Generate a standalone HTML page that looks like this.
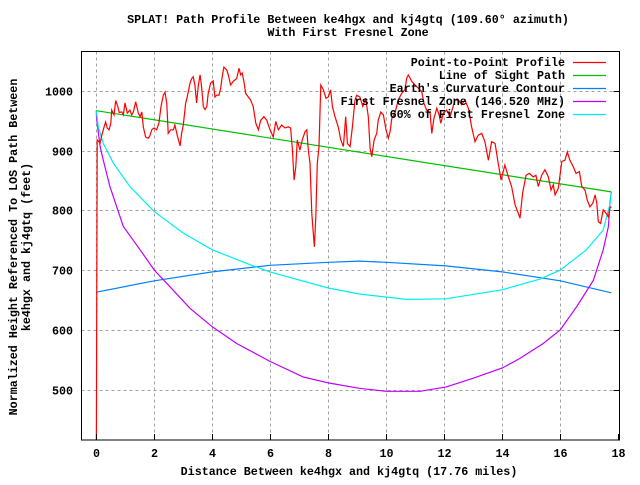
<!DOCTYPE html>
<html><head><meta charset="utf-8"><style>
html,body{margin:0;padding:0;background:#fff;}
svg text{font-family:"Liberation Mono",monospace;font-weight:bold;font-size:11.7px;fill:#000;}
</style></head><body>
<svg id="chart" width="640" height="480" xmlns="http://www.w3.org/2000/svg">
<rect width="640" height="480" fill="#fff"/>
<defs><clipPath id="clip"><rect x="81.5" y="51.5" width="538" height="388.5"/></clipPath></defs>
<g id="grid"></g>
<g id="series" clip-path="url(#clip)"></g>
<rect x="81.5" y="51.5" width="538" height="388.5" fill="none" stroke="#000" stroke-width="1"/>
<g id="axes"></g>
<text x="348" y="23" text-anchor="middle">SPLAT! Path Profile Between ke4hgx and kj4gtq (109.60° azimuth)</text>
<text x="348" y="36" text-anchor="middle">With First Fresnel Zone</text>
<text x="349" y="475" text-anchor="middle">Distance Between ke4hgx and kj4gtq (17.76 miles)</text>
<text transform="translate(17,247) rotate(-90)" text-anchor="middle">Normalized Height Referenced To LOS Path Between</text>
<text transform="translate(30,247) rotate(-90)" text-anchor="middle">ke4hgx and kj4gtq (feet)</text>
<g id="legend"></g>
</svg>
<script>
const xTicks=[0,2,4,6,8,10,12,14,16,18];
const yTicks=[500,600,700,800,900,1000];
const terrainDist=[0,0.03,0.13,0.19,0.27,0.32,0.38,0.44,0.50,0.53,0.61,0.67,0.74,0.79,0.88,0.93,0.99,1.07,1.16,1.22,1.28,1.36,1.45,1.51,1.57,1.62,1.70,1.79,1.85,1.91,1.99,2.08,2.16,2.23,2.31,2.37,2.43,2.48,2.57,2.66,2.71,2.79,2.89,2.94,3.00,3.08,3.15,3.23,3.29,3.34,3.40,3.46,3.52,3.58,3.63,3.69,3.75,3.81,3.86,3.94,4.03,4.09,4.15,4.23,4.29,4.34,4.40,4.50,4.55,4.63,4.72,4.84,4.92,4.98,5.03,5.09,5.15,5.24,5.32,5.41,5.50,5.59,5.67,5.78,5.88,5.97,6.10,6.19,6.28,6.39,6.51,6.62,6.70,6.76,6.82,6.88,6.93,7.02,7.10,7.20,7.26,7.31,7.37,7.43,7.48,7.52,7.57,7.62,7.68,7.74,7.83,7.92,8.00,8.08,8.14,8.23,8.34,8.43,8.52,8.60,8.66,8.75,8.83,8.92,8.98,9.09,9.19,9.29,9.38,9.44,9.50,9.58,9.67,9.72,9.81,9.90,9.99,10.07,10.13,10.19,10.30,10.41,10.53,10.64,10.70,10.76,10.88,10.99,11.10,11.22,11.30,11.39,11.51,11.57,11.64,11.74,11.82,11.88,11.97,12.08,12.20,12.37,12.48,12.60,12.71,12.83,12.94,13.06,13.17,13.29,13.40,13.52,13.63,13.75,13.86,13.96,14.09,14.21,14.32,14.44,14.55,14.61,14.70,14.82,14.93,15.07,15.16,15.24,15.36,15.47,15.59,15.68,15.76,15.82,15.93,16.05,16.16,16.24,16.33,16.45,16.54,16.66,16.74,16.85,16.93,17.02,17.12,17.20,17.26,17.31,17.39,17.48,17.58,17.66,17.71,17.76];
const terrainHeight=[380,918,913,926,940,948,938,935,946,968,960,984,974,964,965,960,980,963,968,960,965,982,963,957,965,940,923,921,925,935,938,935,946,974,993,998,979,929,935,935,943,926,908,929,943,979,993,1013,1021,1024,1010,980,1010,1027,1007,974,969,974,996,1013,1017,990,993,993,1005,1024,1040,1035,1027,1010,1016,1021,1038,1027,1030,1016,996,990,985,974,946,935,951,957,951,938,923,949,935,943,938,940,938,904,851,873,918,901,918,932,935,901,879,795,764,739,789,879,907,1010,1002,988,990,1002,974,957,940,918,907,957,912,907,940,985,993,990,974,988,957,904,890,918,929,951,965,960,935,921,932,954,963,985,996,1002,1021,1027,1016,1010,1005,999,979,968,963,929,954,971,960,946,963,968,957,985,985,977,985,971,940,915,926,929,915,884,915,912,879,851,876,856,840,809,795,787,829,859,862,856,859,840,859,868,856,834,843,826,837,882,884,898,884,873,862,865,840,834,817,806,812,826,812,781,778,801,795,789,804,806];
const losDist=[0,17.76];
const losHeight=[967,831];
const earthDist=[0,2,4,6,8,9.07,10,12.05,14,16,17.76];
const earthHeight=[663,682,697,708,713,715,713,707,697,682,662];
const fresnelDist=[0,0.01,0.13,0.24,0.47,0.93,1.51,1.74,2,2.54,3.23,4,4.84,5.99,7.14,8,9.07,10,11.16,12.05,13,14,14.6,15.41,16,16.57,17.14,17.48,17.66,17.72,17.76];
const fresnelHeight=[967,954,907,884,840,773,734,718,700,672,636,605,577,547,521,511,502,497,497,504,519,536,552,577,600,639,683,734,773,817,831];
const fresnel60Dist=[0,0.07,0.24,0.59,1.16,2,3,4,4.84,5.3,5.99,8,9.07,10.7,12.05,14,15.3,16,16.9,17.48,17.72,17.76];
const fresnel60Height=[968,940,912,879,840,798,762,734,718,709,697,670,660,651,652,667,685,700,734,767,812,831];
const legendLabels=["Point-to-Point Profile","Line of Sight Path","Earth's Curvature Contour","First Fresnel Zone (146.520 MHz)","60% of First Fresnel Zone"];
const legendColors=["#ff0000","#00c000","#0080ff","#c000ff","#00eeee"];

const NS="http://www.w3.org/2000/svg";
const X0=81.5,X1=619.5,Y0=440,Y1=51.5;
const xMin=-0.5,xMax=18,yMin=416,yMax=1067;
function sx(v){return 96.3+(v)*29;}
function sy(v){return 91+(1000-v)*0.597;}
function mk(tag,attrs,parent){const e=document.createElementNS(NS,tag);for(const k in attrs)e.setAttribute(k,attrs[k]);parent.appendChild(e);return e;}
const grid=document.getElementById('grid'),axes=document.getElementById('axes'),series=document.getElementById('series'),legend=document.getElementById('legend');
xTicks.forEach(t=>{
  const x=Math.round(sx(t))+0.5;
  if(t<18){const g=mk('line',{x1:x,x2:x,y1:Y1,y2:Y0,stroke:'#a0a0a0','stroke-dasharray':'3,3','stroke-width':1},grid);
  
  }
  const tk=mk('line',{x1:x,x2:x,y1:Y0,y2:Y0-6,stroke:'#000'},axes);
  
  
  const tx=mk('text',{x:x,y:457,'text-anchor':'middle'},axes);tx.textContent=t;
  
  
});
yTicks.forEach(t=>{
  const y=Math.round(sy(t))+0.5;
  const g=mk('line',{x1:X0,x2:X1,y1:y,y2:y,stroke:'#a0a0a0','stroke-dasharray':'3,3','stroke-width':1},grid);
  
  
  const tk=mk('line',{x1:X1-6,x2:X1,y1:y,y2:y,stroke:'#000'},axes);
  
  
  const tx=mk('text',{x:73,y:y+4,'text-anchor':'end'},axes);tx.textContent=t;
  
  
});
function line(xs,ys,color,name){
  const d=xs.map((v,i)=>(i?'L':'M')+sx(v).toFixed(1)+','+sy(ys[i]).toFixed(1)).join('');
  const p=mk('path',{d:d,fill:'none',stroke:color,'stroke-width':1.2,'stroke-linejoin':'miter'},series);
  
  
}
line(earthDist,earthHeight,legendColors[2],'earth-curvature-line');
line(fresnelDist,fresnelHeight,legendColors[3],'fresnel-zone-line');
line(fresnel60Dist,fresnel60Height,legendColors[4],'fresnel-60-line');
line(losDist,losHeight,legendColors[1],'line-of-sight');
line(terrainDist,terrainHeight,legendColors[0],'terrain-profile-line');
legendLabels.forEach((l,i)=>{
  const y=62+i*13;
  const t=mk('text',{x:565,y:y+4,'text-anchor':'end'},legend);t.textContent=l;
  
  
  const s=mk('line',{x1:573,x2:606,y1:y+0.5,y2:y+0.5,stroke:legendColors[i],'stroke-width':1.2},legend);
  
  
});
</script>
</body></html>
